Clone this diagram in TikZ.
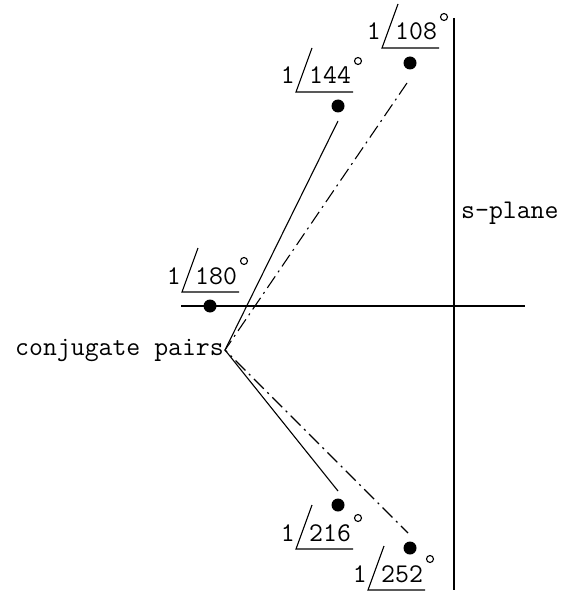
\documentclass[tikz,border=0pt]{standalone}
\usetikzlibrary{positioning,calc}

\tikzset{
  lbl/.style={inner sep=0pt, font=\ttfamily\fontsize{27}{27}\selectfont},
  pole/.style={circle, fill=black, inner sep=0pt, minimum size=13pt},
  dashdot/.style={line width=1.1pt, dash pattern=on 14pt off 5pt on 2pt off 5pt}
}

% angle label: corner of the angle sign, name, digits
\newcommand{\anglelabel}[3]{%
  \begin{scope}[shift={(#1)}]
    \coordinate (#2) at (0,0);
    \node[lbl, anchor=base east] (#2one) at (-1,-8) {1};
    \node[lbl, anchor=base west] (#2num) at (13,-8) {#3};
    \draw[line width=1.1pt] (16,-44) -- (#2) -- (57,0);
    \draw[line width=1.1pt] (62,-31) circle[radius=3.5pt];
  \end{scope}
}

\begin{document}
\begin{tikzpicture}[x=1pt,y=-1pt]
\useasboundingbox (0,0) rectangle (567,596);

% axes
\draw[line width=1.3pt] (454,18) -- (454,590);
\draw[line width=1.3pt] (181,306) -- (525,306);
\node[lbl, anchor=base west] (splane) at (461,218) {s-plane};

% poles
\node[pole] (p108) at (410,63) {};
\node[pole] (p144) at (338,106) {};
\node[pole] (p180) at (210,306) {};
\node[pole] (p216) at (338,505) {};
\node[pole] (p252) at (410,548) {};

\anglelabel{382,48}{a108}{108}
\anglelabel{296,92}{a144}{144}
\anglelabel{182,292}{a180}{180}
\anglelabel{296,549}{a216}{216}
\anglelabel{368,590}{a252}{252}

% conjugate pairs
\coordinate (apex) at (225,350);
\node[lbl, anchor=base east] (conj) at (224,355) {conjugate pairs};
\draw[line width=1.1pt] ([yshift=-15pt]p144.center) -- (apex) -- ([yshift=14pt]p216.center);
\draw[dashdot] ([shift={(-3,20)}]p108.center) -- (apex) -- ([shift={(-2,-15)}]p252.center);
\end{tikzpicture}
\end{document}
